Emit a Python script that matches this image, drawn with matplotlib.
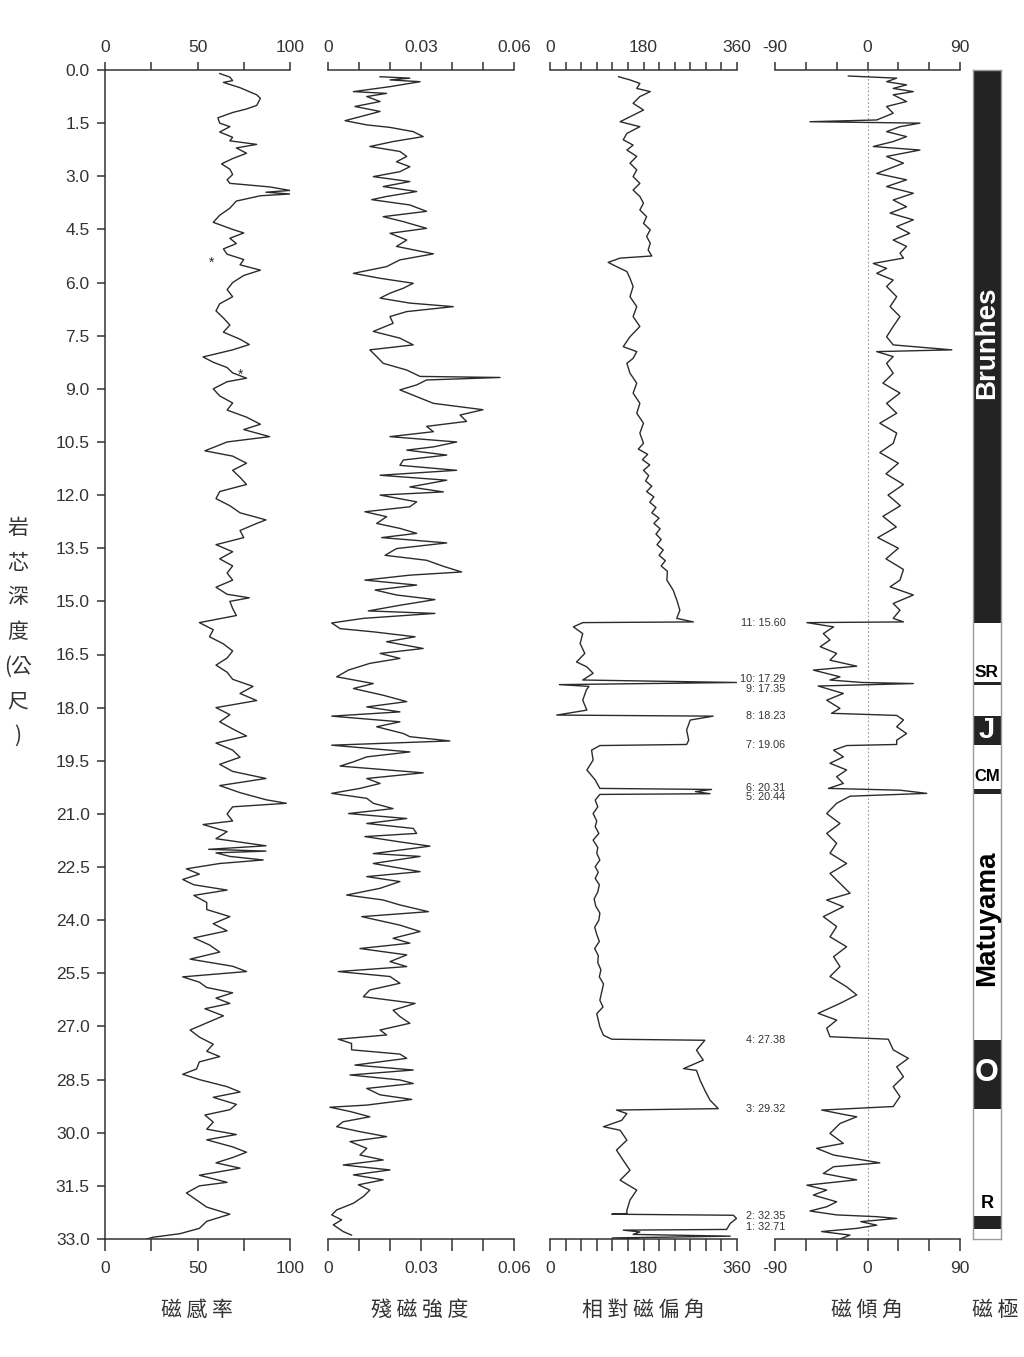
import numpy as np
import matplotlib.pyplot as plt
from matplotlib.transforms import blended_transform_factory

plt.rcParams['font.family'] = ['Liberation Sans', 'Noto Sans CJK TC', 'DejaVu Sans']

# depth (m), magnetic susceptibility
sus = [(0.10, 62), (0.20, 67.5), (0.30, 69), (0.35, 64), (0.50, 73), (0.70, 82), (0.80, 84), (1.00, 82),
       (1.10, 76.5), (1.20, 69), (1.35, 61), (1.50, 62), (1.60, 67.5), (1.75, 62), (1.90, 69), (2.00, 67.5),
       (2.10, 82), (2.20, 71), (2.35, 76.5), (2.50, 69), (2.65, 63), (2.80, 67.5), (2.95, 69), (3.10, 66),
       (3.20, 67.5), (3.30, 89), (3.40, 100), (3.45, 87), (3.50, 100), (3.55, 84), (3.70, 71), (3.90, 67.5),
       (4.10, 62), (4.30, 58.5), (4.50, 69), (4.60, 75), (4.75, 67.5), (4.90, 71), (5.05, 64), (5.20, 66),
       (5.35, 75), (5.50, 73), (5.65, 84), (5.80, 75), (6.00, 69), (6.20, 66), (6.40, 69), (6.60, 62),
       (6.80, 60), (7.00, 64), (7.20, 67.5), (7.40, 64), (7.60, 73), (7.75, 78), (7.90, 69), (8.10, 53),
       (8.25, 58.5), (8.40, 66), (8.55, 69), (8.70, 76.5), (8.80, 66), (9.00, 58.5), (9.20, 62), (9.40, 69),
       (9.60, 66), (9.80, 76.5), (10.00, 84), (10.15, 75), (10.35, 89), (10.50, 66), (10.75, 54), (10.90, 69),
       (11.10, 76.5), (11.30, 69), (11.50, 73), (11.70, 76.5), (11.90, 62), (12.10, 60), (12.30, 67.5),
       (12.50, 73), (12.70, 87), (12.80, 82), (13.00, 73), (13.20, 75), (13.40, 60), (13.60, 69), (13.80, 62),
       (14.00, 69), (14.20, 66), (14.40, 69), (14.60, 60), (14.80, 66), (14.90, 78), (15.00, 67.5),
       (15.20, 69), (15.40, 71), (15.60, 51), (15.80, 58.5), (16.00, 56.5), (16.20, 64), (16.40, 69),
       (16.60, 66), (16.80, 60), (17.00, 66), (17.20, 69), (17.40, 80), (17.60, 73), (17.80, 82), (18.00, 60),
       (18.20, 67.5), (18.40, 62), (18.60, 69), (18.80, 76.5), (19.00, 60), (19.20, 69), (19.40, 73),
       (19.60, 62), (19.80, 69), (20.00, 87), (20.20, 62), (20.40, 73), (20.60, 87), (20.70, 98), (20.80, 69),
       (21.00, 66), (21.20, 69), (21.30, 53), (21.50, 66), (21.70, 60), (21.90, 87), (22.00, 56), (22.05, 87),
       (22.10, 60), (22.20, 67.5), (22.30, 85.5), (22.40, 62), (22.55, 44), (22.70, 51), (22.85, 42),
       (23.00, 48), (23.15, 66), (23.30, 48), (23.50, 55), (23.70, 55), (23.90, 67.5), (24.10, 58.5),
       (24.30, 66), (24.50, 48), (24.70, 56.5), (24.90, 62), (25.10, 46), (25.30, 69), (25.45, 76.5),
       (25.60, 42), (25.75, 51), (25.90, 55), (26.05, 69), (26.20, 60), (26.35, 67.5), (26.50, 54),
       (26.70, 64), (26.90, 55), (27.10, 46), (27.30, 51), (27.50, 58.5), (27.70, 55), (27.85, 62),
       (28.00, 51), (28.20, 49.5), (28.35, 42), (28.50, 51), (28.70, 66), (28.85, 73), (29.00, 58.5),
       (29.20, 71), (29.35, 67.5), (29.50, 54), (29.70, 58.5), (29.90, 55), (30.05, 71), (30.20, 55),
       (30.40, 69), (30.55, 76.5), (30.70, 69), (30.85, 60), (31.00, 73), (31.20, 51), (31.40, 66),
       (31.50, 51), (31.70, 44), (31.90, 49.5), (32.10, 55), (32.30, 67.5), (32.50, 55), (32.70, 51),
       (32.85, 40.5), (32.95, 26), (33.00, 22.5)]

# depth (m), remanent intensity
rem = [(0.19, 0.0168), (0.23, 0.0264), (0.28, 0.020), (0.33, 0.0297), (0.47, 0.020), (0.61, 0.0082),
       (0.66, 0.0189), (0.75, 0.0125), (0.89, 0.0168), (1.03, 0.0087), (1.17, 0.0168), (1.32, 0.0103),
       (1.43, 0.0055), (1.55, 0.0125), (1.62, 0.020), (1.74, 0.0275), (1.88, 0.0307), (2.02, 0.021),
       (2.16, 0.0135), (2.30, 0.0232), (2.44, 0.0254), (2.59, 0.0221), (2.73, 0.0264), (2.87, 0.0232),
       (3.01, 0.0146), (3.15, 0.0264), (3.29, 0.0178), (3.43, 0.0286), (3.57, 0.0189), (3.66, 0.0141),
       (3.81, 0.0264), (3.99, 0.0318), (4.14, 0.0178), (4.28, 0.0243), (4.47, 0.0318), (4.61, 0.020),
       (4.80, 0.0254), (4.98, 0.0221), (5.19, 0.034), (5.36, 0.0232), (5.55, 0.0189), (5.74, 0.0082),
       (5.88, 0.0168), (6.02, 0.0275), (6.16, 0.0243), (6.30, 0.020), (6.44, 0.0168), (6.58, 0.0264),
       (6.68, 0.0404), (6.82, 0.0254), (6.96, 0.020), (7.15, 0.021), (7.38, 0.0146), (7.57, 0.0232),
       (7.76, 0.0275), (7.90, 0.0135), (8.09, 0.0157), (8.28, 0.0178), (8.47, 0.0254), (8.65, 0.0297),
       (8.68, 0.0555), (8.75, 0.0318), (8.89, 0.0286), (9.03, 0.0232), (9.22, 0.0286), (9.41, 0.034),
       (9.59, 0.050), (9.74, 0.0426), (9.92, 0.0447), (10.06, 0.0318), (10.21, 0.034), (10.35, 0.020),
       (10.50, 0.0415), (10.64, 0.034), (10.73, 0.0254), (10.87, 0.0383), (11.01, 0.0243), (11.16, 0.0232),
       (11.30, 0.0415), (11.44, 0.0168), (11.58, 0.0383), (11.77, 0.0264), (11.91, 0.0372), (12.00, 0.0168),
       (12.19, 0.0286), (12.33, 0.0264), (12.47, 0.0119), (12.61, 0.0189), (12.80, 0.0157), (12.94, 0.0232),
       (13.08, 0.0286), (13.20, 0.0173), (13.35, 0.0383), (13.51, 0.0221), (13.70, 0.0184), (13.84, 0.0318),
       (14.01, 0.0372), (14.17, 0.0431), (14.26, 0.0264), (14.40, 0.0119), (14.54, 0.0286), (14.68, 0.0152),
       (14.82, 0.0221), (14.95, 0.0345), (15.11, 0.0232), (15.27, 0.013), (15.34, 0.0345), (15.48, 0.0114),
       (15.61, 0.0012), (15.77, 0.0039), (15.86, 0.0146), (16.00, 0.0281), (16.14, 0.0189), (16.33, 0.0307),
       (16.47, 0.0168), (16.61, 0.0232), (16.75, 0.0135), (16.94, 0.0066), (17.13, 0.0028), (17.32, 0.0146),
       (17.46, 0.0082), (17.65, 0.0178), (17.83, 0.0254), (17.98, 0.0125), (18.12, 0.0232), (18.24, 0.0012),
       (18.40, 0.0232), (18.54, 0.0157), (18.73, 0.0243), (18.82, 0.0264), (18.94, 0.0393), (19.06, 0.0012),
       (19.25, 0.0264), (19.39, 0.0125), (19.53, 0.0082), (19.65, 0.0039), (19.84, 0.0307), (20.00, 0.0125),
       (20.14, 0.0168), (20.28, 0.0103), (20.42, 0.0012), (20.56, 0.0125), (20.70, 0.0146), (20.85, 0.021),
       (20.99, 0.0066), (21.13, 0.0254), (21.27, 0.0125), (21.41, 0.0275), (21.55, 0.0286), (21.64, 0.0119),
       (21.79, 0.0232), (21.91, 0.0329), (22.12, 0.0146), (22.20, 0.0297), (22.40, 0.0146), (22.63, 0.0297),
       (22.77, 0.0125), (22.91, 0.0232), (23.10, 0.0168), (23.29, 0.006), (23.43, 0.0178), (23.57, 0.0232),
       (23.76, 0.0324), (23.90, 0.0109), (24.14, 0.0232), (24.32, 0.0297), (24.51, 0.021), (24.65, 0.0264),
       (24.80, 0.0103), (24.98, 0.0254), (25.17, 0.020), (25.31, 0.0254), (25.45, 0.0033), (25.59, 0.020),
       (25.78, 0.0232), (25.97, 0.0135), (26.16, 0.0114), (26.35, 0.0281), (26.54, 0.021), (26.72, 0.0232),
       (26.91, 0.0264), (27.10, 0.0168), (27.24, 0.0189), (27.36, 0.0033), (27.48, 0.0076), (27.66, 0.0076),
       (27.78, 0.0232), (27.90, 0.0254), (28.09, 0.0087), (28.23, 0.0275), (28.37, 0.0071), (28.51, 0.0232),
       (28.61, 0.0275), (28.75, 0.0125), (28.93, 0.0168), (29.06, 0.027), (29.22, 0.0125), (29.28, 0.0006),
       (29.40, 0.0071), (29.55, 0.0135), (29.69, 0.0049), (29.83, 0.0028), (29.97, 0.0103), (30.11, 0.0189),
       (30.25, 0.0071), (30.44, 0.0125), (30.63, 0.0103), (30.77, 0.0178), (30.91, 0.0049), (31.05, 0.020),
       (31.19, 0.0082), (31.33, 0.0178), (31.47, 0.0098), (31.62, 0.0135), (31.80, 0.0114), (31.99, 0.0082),
       (32.18, 0.0028), (32.32, 0.0012), (32.46, 0.0044), (32.60, 0.0017), (32.79, 0.0049), (32.89, 0.0076)]

# depth (m), relative declination (deg)
dec = [(0.19, 132), (0.28, 154), (0.38, 173), (0.52, 167), (0.61, 193), (0.75, 173), (0.94, 160), (1.13, 180),
       (1.32, 154), (1.46, 135), (1.60, 173), (1.79, 148), (1.97, 141), (2.12, 160), (2.26, 148), (2.44, 167),
       (2.63, 154), (2.82, 167), (3.01, 160), (3.20, 173), (3.39, 160), (3.57, 173), (3.76, 180), (3.95, 173),
       (4.14, 186), (4.33, 180), (4.51, 193), (4.70, 186), (4.89, 193), (5.08, 189), (5.25, 196), (5.31, 135),
       (5.43, 112), (5.55, 128), (5.69, 148), (5.88, 154), (6.11, 160), (6.40, 154), (6.68, 167), (6.96, 160),
       (7.24, 173), (7.53, 154), (7.81, 141), (7.95, 167), (8.14, 160), (8.28, 148), (8.56, 154), (8.84, 167),
       (9.12, 160), (9.41, 173), (9.69, 167), (9.97, 180), (10.25, 173), (10.54, 180), (10.70, 170),
       (10.85, 188), (11.00, 178), (11.15, 192), (11.30, 180), (11.45, 190), (11.60, 184), (11.75, 196),
       (11.90, 186), (12.05, 200), (12.20, 192), (12.35, 204), (12.50, 196), (12.65, 210), (12.80, 200),
       (12.95, 212), (13.10, 204), (13.25, 214), (13.40, 206), (13.55, 218), (13.70, 210), (13.85, 222),
       (14.00, 214), (14.15, 226), (14.40, 225), (14.68, 237), (14.96, 244),
       (15.25, 250), (15.48, 244), (15.58, 276), (15.60, 63), (15.72, 45), (15.91, 63), (16.19, 58),
       (16.47, 67), (16.71, 51), (16.85, 71), (17.03, 83), (17.22, 63), (17.29, 359), (17.35, 18), (17.40, 75),
       (17.50, 70), (17.79, 63), (18.07, 71), (18.21, 13), (18.24, 314), (18.35, 270), (18.63, 263),
       (18.92, 267), (19.04, 263), (19.07, 96), (19.20, 80), (19.48, 83), (19.76, 71), (20.04, 87),
       (20.28, 96), (20.31, 311), (20.37, 280), (20.43, 308), (20.45, 96), (20.61, 87), (20.80, 92),
       (20.99, 83), (21.20, 90), (21.36, 87), (21.55, 94), (21.74, 83), (21.95, 92), (22.11, 90), (22.30, 96),
       (22.49, 87), (22.65, 93), (22.82, 87), (23.00, 95), (23.20, 92), (23.40, 85), (23.60, 88), (23.80, 96),
       (24.00, 94), (24.20, 86), (24.40, 90), (24.60, 95), (24.80, 86), (25.00, 93), (25.20, 92), (25.40, 98),
       (25.60, 95), (25.80, 103), (26.00, 100), (26.26, 96), (26.45, 102), (26.64, 90),
       (27.01, 96), (27.25, 103), (27.36, 119), (27.39, 298), (27.67, 282), (27.95, 295), (28.19, 257),
       (28.24, 282), (28.52, 289), (28.80, 298), (29.08, 308), (29.32, 324), (29.36, 128), (29.46, 148),
       (29.65, 138), (29.83, 103), (29.93, 135), (30.21, 148), (30.49, 128), (30.78, 141), (31.06, 154),
       (31.34, 135), (31.62, 167), (31.90, 154), (32.19, 148), (32.28, 148), (32.30, 119), (32.33, 353),
       (32.42, 359), (32.56, 347), (32.73, 340), (32.75, 141), (32.80, 173), (32.87, 160), (32.92, 347),
       (32.97, 120), (33.00, 170)]

# depth (m), inclination (deg)
inc = [(0.17, -18.6), (0.23, 28.4), (0.33, 18.6), (0.42, 38), (0.52, 25), (0.61, 44.6), (0.70, 25), (0.89, 38),
       (1.03, 18.6), (1.22, 25), (1.41, 9), (1.46, -56), (1.50, 51), (1.60, 31.6), (1.74, 18.6), (1.88, 38),
       (2.02, 25), (2.16, 5.6), (2.26, 51), (2.44, 18.6), (2.63, 35), (2.92, 9), (3.10, 38), (3.29, 18.6),
       (3.48, 44.6), (3.67, 25), (3.86, 38), (4.04, 22), (4.23, 44.6), (4.42, 28.4), (4.61, 41), (4.80, 25),
       (4.98, 38), (5.17, 31.6), (5.31, 35), (5.46, 5.6), (5.60, 18.6), (5.74, 9), (5.93, 25), (6.11, 18.6),
       (6.40, 28.4), (6.68, 22), (6.96, 31.6), (7.24, 25), (7.53, 18.6), (7.76, 25), (7.90, 82), (7.95, 9),
       (8.09, 25), (8.28, 18.6), (8.56, 25), (8.84, 15), (9.12, 31.6), (9.41, 18.6), (9.69, 28.4), (9.97, 12),
       (10.25, 28.4), (10.54, 25), (10.80, 12), (11.10, 30), (11.40, 18), (11.70, 35), (12.00, 20),
       (12.30, 32), (12.60, 15), (12.90, 28), (13.20, 10), (13.50, 30), (13.80, 18), (14.10, 35),
       (14.40, 31.6), (14.59, 22), (14.82, 44.6), (15.06, 25), (15.25, 31.6), (15.48, 25), (15.58, 35),
       (15.60, -59), (15.72, -33), (15.91, -43), (16.09, -36.5), (16.28, -46), (16.47, -30), (16.66, -36.5),
       (16.83, -10.5), (16.94, -52.7), (17.13, -26.8), (17.22, -36.5), (17.29, -5), (17.32, 44.6),
       (17.39, -48), (17.60, -23.5), (17.79, -39.7), (18.02, -26.8), (18.16, -35), (18.22, 28.4), (18.35, 35),
       (18.54, 28.4), (18.73, 38), (18.92, 28.4), (19.04, 28.4), (19.07, -20.3), (19.20, -33), (19.39, -23.5),
       (19.57, -36.5), (19.76, -20.3), (19.95, -30), (20.14, -23.5), (20.28, -38), (20.33, 31.6),
       (20.42, 57.6), (20.50, -17), (20.70, -30), (20.99, -39.7), (21.27, -26.8), (21.55, -39.7),
       (21.83, -30), (22.11, -36.5), (22.40, -20.3), (22.68, -36.5), (22.96, -26.8), (23.24, -17),
       (23.43, -39.7), (23.62, -23.5), (23.90, -43), (24.18, -30), (24.47, -36.5), (24.75, -20.3),
       (25.03, -33), (25.31, -26.8), (25.59, -36.5), (25.88, -20.3), (26.11, -10.5), (26.35, -26.8),
       (26.63, -48), (26.82, -30), (27.05, -39.7), (27.29, -36.5), (27.36, 20.3), (27.66, 25), (27.90, 39.7),
       (28.14, 28.4), (28.42, 35), (28.70, 25), (28.98, 31.6), (29.26, 25), (29.36, -44.6), (29.50, -20.3),
       (29.55, -10.5), (29.74, -26.8), (30.02, -36.5), (30.30, -23.5), (30.44, -49.5), (30.63, -33),
       (30.85, 12), (30.96, -33), (31.15, -43), (31.33, -10.5), (31.48, -59), (31.62, -39.7), (31.76, -52.7),
       (31.95, -30), (32.09, -39.7), (32.21, -56), (32.32, -30), (32.37, 9), (32.42, 28.4), (32.51, -6.5),
       (32.61, 9), (32.70, -10.5), (32.79, -44.6), (32.89, -17), (33.00, -26.8)]

# reversal boundaries labelled in the declination panel
rev_labels = ['11: 15.60', '10: 17.29', '9: 17.35', '8: 18.23', '7: 19.06', '6: 20.31', '5: 20.44',
              '4: 27.38', '3: 29.32', '2: 32.35', '1: 32.71']
rev_depths = [15.60, 17.29, 17.35, 18.23, 19.06, 20.31, 20.44, 27.38, 29.32, 32.35, 32.71]

# normal polarity intervals (black)
normal = [(0.0, 15.60), (17.29, 17.35), (18.23, 19.06), (20.31, 20.44), (27.38, 29.32), (32.35, 32.71)]
chrons = [('Brunhes', 7.7, 'white', 20, 90), ('SR', 17.0, 'black', 12.5, 0), ('J', 18.63, 'white', 21, 0),
          ('CM', 19.95, 'black', 12, 0), ('Matuyama', 23.95, 'black', 20, 90), ('O', 28.3, 'white', 22, 0),
          ('R', 32.0, 'black', 13, 0)]

titles = ['磁 感 率', '殘 磁 強 度', '相 對 磁 偏 角', '磁 傾 角']

LINE = '#2b2b2b'
TXT = '#333333'
W, H = 1024, 1357

fig = plt.figure(figsize=(10.24, 13.57), dpi=100)


def px_axes(x0, x1, y0=70, y1=1239):
    ax = fig.add_axes([x0 / W, 1 - y1 / H, (x1 - x0) / W, (y1 - y0) / H])
    ax.patch.set_visible(False)
    return ax


def style(ax, xlim, major, minor, labels, left=False):
    ax.set_xlim(*xlim)
    ax.set_ylim(33, 0)
    for s in ['right', 'top']:
        ax.spines[s].set_visible(False)
    ax.spines['left'].set_visible(left)
    ax.spines['bottom'].set_linewidth(1.1)
    ax.spines['bottom'].set_color(TXT)
    ax.set_xticks(major, labels=labels)
    ax.set_xticks(minor, minor=True)
    ax.tick_params(axis='x', which='both', direction='out', length=8.6, width=1.1, color=TXT,
                   labelsize=12.5, labelcolor=TXT, pad=7)
    sec = ax.secondary_xaxis('top')
    sec.set_xticks(major, labels=labels)
    sec.set_xticks(minor, minor=True)
    sec.spines['top'].set_linewidth(1.1)
    sec.spines['top'].set_color(TXT)
    sec.tick_params(axis='x', which='both', direction='out', length=5.8, width=1.1, color=TXT,
                    labelsize=12.5, labelcolor=TXT, pad=5)
    if left:
        ax.spines['left'].set_linewidth(1.1)
        ax.spines['left'].set_color(TXT)
        yt = np.arange(0, 33.01, 1.5)
        ax.set_yticks(yt, labels=[f'{v:.1f}' for v in yt])
        ax.tick_params(axis='y', direction='out', length=6, width=1.1, color=TXT, labelsize=12.5,
                       labelcolor=TXT, pad=5)
    else:
        ax.set_yticks([])


def draw(ax, pairs):
    arr = np.array(pairs)
    ax.plot(arr[:, 1], arr[:, 0], color=LINE, lw=1.0)


ax1 = px_axes(105, 290)
style(ax1, (0, 100), [0, 50, 100], [25, 75], ['0', '50', '100'], left=True)
draw(ax1, sus)
ax1.text(57.7, 5.45, '*', ha='center', va='center', fontsize=10, color=LINE)
ax1.text(73, 8.6, '*', ha='center', va='center', fontsize=10, color=LINE)

ax2 = px_axes(328, 514)
style(ax2, (0, 0.06), [0, 0.03, 0.06], [0.01, 0.02, 0.04, 0.05], ['0', '0.03', '0.06'])
draw(ax2, rem)

ax3 = px_axes(550, 737)
style(ax3, (0, 360), [0, 180, 360], [v for v in range(30, 360, 30) if v != 180], ['0', '180', '360'])
draw(ax3, dec)
tr = blended_transform_factory(ax3.transAxes, ax3.transData)
offsets = {'10: 17.29': -0.1, '9: 17.35': 0.12, '6: 20.31': -0.05, '5: 20.44': 0.08,
           '2: 32.35': 0.0, '1: 32.71': -0.05}
for lab, d in zip(rev_labels, rev_depths):
    ax3.text(1.26, d + offsets.get(lab, 0.0), lab, transform=tr, ha='right', va='center',
             fontsize=7.8, color=TXT, clip_on=False, zorder=5)

ax4 = px_axes(775, 960)
style(ax4, (-90, 90), [-90, 0, 90], [-60, -30, 30, 60], ['-90', '0', '90'])
ax4.axvline(0, color='#999999', lw=0.8, ls=(0, (1.5, 2)))
draw(ax4, inc)

ax5 = px_axes(973, 1001)
ax5.set_xlim(0, 1)
ax5.set_ylim(33, 0)
ax5.set_xticks([])
ax5.set_yticks([])
for s in ax5.spines.values():
    s.set_color('#9a9a9a')
    s.set_linewidth(1.0)
for top, bot in normal:
    ax5.axhspan(top, bot, color='#232323', lw=0)
for name, d, col, fs, rot in chrons:
    ax5.text(0.5, d, name, ha='center', va='center', rotation=rot, color=col, fontsize=fs,
             fontweight='bold', family='Liberation Sans')

cjk = ['Noto Sans CJK TC', 'DejaVu Sans']
for t, xc in zip(titles, [197, 420, 643, 867]):
    fig.text(xc / W, 1 - 1310 / H, t, ha='center', va='center', fontsize=15, color=TXT, family=cjk)
fig.text(995 / W, 1 - 1310 / H, '磁 極', ha='center', va='center', fontsize=15, color=TXT, family=cjk)
fig.text(18 / W, 1 - 632 / H, '岩\n芯\n深\n度\n(公\n尺\n)', ha='center', va='center', fontsize=15,
         color=TXT, family=cjk, linespacing=1.75)

fig.savefig('out.png', dpi=100, facecolor='white')
